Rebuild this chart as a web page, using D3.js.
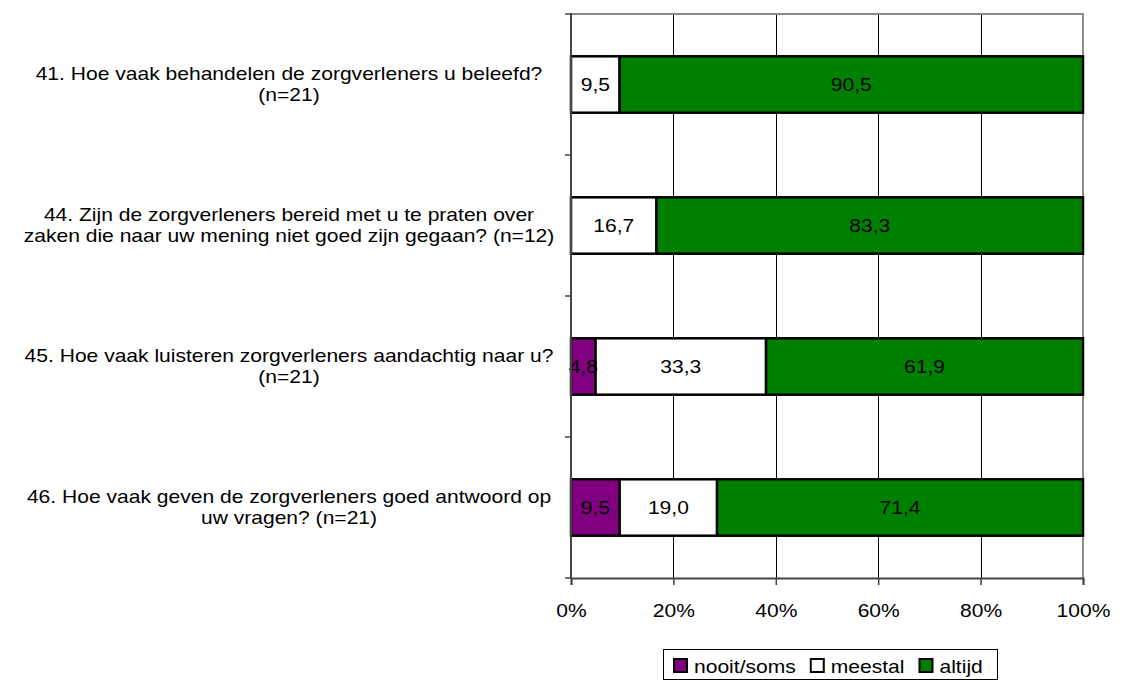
<!DOCTYPE html>
<html>
<head>
<meta charset="utf-8">
<script src="https://cdn.jsdelivr.net/npm/d3@7"></script>
<style>
  html, body { margin: 0; padding: 0; background: #fff; }
  svg { display: block; font-family: "Liberation Sans", Arial, sans-serif; }
</style>
</head>
<body>
<svg id="chart" width="1125" height="680"></svg>
<script>
// Questions (each entry is a list of wrapped lines)
const questions = [
  ["41. Hoe vaak behandelen de zorgverleners u beleefd?", "(n=21)"],
  ["44. Zijn de zorgverleners bereid met u te praten over", "zaken die naar uw mening niet goed zijn gegaan? (n=12)"],
  ["45. Hoe vaak luisteren zorgverleners aandachtig naar u?", "(n=21)"],
  ["46. Hoe vaak geven de zorgverleners goed antwoord op", "uw vragen? (n=21)"]
];
const seriesNames = ["nooit/soms", "meestal", "altijd"];
const nooitSoms = [0, 0, 4.8, 9.5];
const meestal   = [9.5, 16.7, 33.3, 19.0];
const altijd    = [90.5, 83.3, 61.9, 71.4];
const xTicks = [0, 0.2, 0.4, 0.6, 0.8, 1.0];
const seriesColors = ["#800080", "#ffffff", "#008000"];

const rows = questions.map((q, i) => ({
  key: i,
  "nooit/soms": nooitSoms[i],
  "meestal": meestal[i],
  "altijd": altijd[i]
}));

const svg = d3.select("#chart");
const plot = { left: 571, right: 1083, top: 14, bottom: 578 };
const FONT = 18;
const SX = 1.17;               // horizontal stretch of all text
const stretch = `scale(${SX},1)`;

const x = d3.scaleLinear().domain([0, 1]).range([plot.left, plot.right]);
const y = d3.scaleBand().domain(d3.range(questions.length))
  .range([plot.top, plot.bottom]).paddingInner(0.6).paddingOuter(0.3);
const color = d3.scaleOrdinal().domain(seriesNames).range(seriesColors);

// 100% stacked layout
const stack = d3.stack().keys(seriesNames).offset(d3.stackOffsetExpand);
const layers = stack(rows);

// vertical gridlines
svg.append("g").selectAll("line")
  .data(xTicks.slice(1, -1)).join("line")
  .attr("x1", d => Math.round(x(d)) + 0.5).attr("x2", d => Math.round(x(d)) + 0.5)
  .attr("y1", plot.top).attr("y2", plot.bottom)
  .attr("stroke", "#000").attr("stroke-width", 1);

// plot frame: top and right in grey
svg.append("path")
  .attr("d", `M${plot.left},${plot.top}H${plot.right}V${plot.bottom}`)
  .attr("fill", "none").attr("stroke", "#8c8c8c").attr("stroke-width", 2);

// bars
const segs = svg.append("g").selectAll("g").data(layers).join("g")
  .attr("fill", d => color(d.key));
segs.selectAll("rect")
  .data(d => d.map((v, i) => ({ v, i, key: d.key })).filter(o => o.v[1] - o.v[0] > 0))
  .join("rect")
  .attr("x", o => x(o.v[0]))
  .attr("y", o => y(o.i))
  .attr("width", o => x(o.v[1]) - x(o.v[0]))
  .attr("height", y.bandwidth())
  .attr("stroke", "#000").attr("stroke-width", 2.5);

// value labels
const labelData = [];
layers.forEach(layer => layer.forEach((v, i) => {
  const raw = layer.key === "nooit/soms" ? nooitSoms[i] : layer.key === "meestal" ? meestal[i] : altijd[i];
  if (raw > 0) labelData.push({ v, i, raw });
}));
svg.append("g").selectAll("text").data(labelData).join("text")
  .attr("transform", o => `translate(${(x(o.v[0]) + x(o.v[1])) / 2},${y(o.i) + y.bandwidth() / 2}) ${stretch}`)
  .attr("dy", "0.35em")
  .attr("text-anchor", "middle")
  .attr("font-size", FONT)
  .attr("fill", "#000")
  .text(o => o.raw.toFixed(1).replace(".", ","));

// y axis (left) with ticks at category boundaries
const yAxisG = svg.append("g");
yAxisG.append("line")
  .attr("x1", plot.left).attr("x2", plot.left)
  .attr("y1", plot.top - 1).attr("y2", plot.bottom)
  .attr("stroke", "#444").attr("stroke-width", 2);
const boundaries = d3.range(questions.length + 1).map(i => plot.top + i * y.step());
yAxisG.selectAll("line.tick").data(boundaries).join("line")
  .attr("class", "tick")
  .attr("x1", plot.left - 6).attr("x2", plot.left)
  .attr("y1", d => d).attr("y2", d => d)
  .attr("stroke", "#444").attr("stroke-width", 1.5);

// x axis (bottom)
const xAxis = d3.axisBottom(x).tickValues(xTicks).tickFormat(d3.format(".0%"))
  .tickSize(7).tickPadding(19);
const xg = svg.append("g").attr("transform", `translate(0,${plot.bottom})`).call(xAxis);
xg.select(".domain").attr("stroke", "#444").attr("stroke-width", 2);
xg.selectAll(".tick line").attr("stroke", "#444").attr("stroke-width", 1.5);
xg.selectAll(".tick text").attr("font-size", FONT).attr("fill", "#000")
  .attr("font-family", "'Liberation Sans', Arial, sans-serif")
  .attr("transform", stretch);

// category labels, centred lines
const labelCenter = 289;
const lineGap = 21;
const cat = svg.append("g").selectAll("text").data(questions).join("text")
  .attr("transform", `translate(${labelCenter},0) ${stretch}`)
  .attr("text-anchor", "middle")
  .attr("font-size", FONT)
  .attr("fill", "#000");
cat.each(function(lines, i) {
  const cy = y(i) + y.bandwidth() / 2;
  const t0 = cy - (lines.length - 1) * lineGap / 2;
  d3.select(this).selectAll("tspan").data(lines).join("tspan")
    .attr("x", 0)
    .attr("y", (d, k) => t0 + k * lineGap)
    .attr("dy", "0.35em")
    .text(d => d);
});

// legend
const legend = svg.append("g").attr("transform", "translate(663,649)");
legend.append("rect")
  .attr("x", 0.5).attr("y", 0.5).attr("width", 334).attr("height", 30)
  .attr("fill", "#fff").attr("stroke", "#000").attr("stroke-width", 1);
let lx = 10;
seriesNames.forEach(name => {
  const item = legend.append("g").attr("transform", `translate(${lx},0)`);
  item.append("rect").attr("x", 1).attr("y", 10).attr("width", 13).attr("height", 13)
    .attr("fill", color(name)).attr("stroke", "#000").attr("stroke-width", 2);
  const t = item.append("text")
    .attr("transform", `translate(21,24) ${stretch}`)
    .attr("font-size", FONT).attr("fill", "#000").text(name);
  lx += 21 + t.node().getComputedTextLength() * SX + 14;
});
</script>
</body>
</html>
